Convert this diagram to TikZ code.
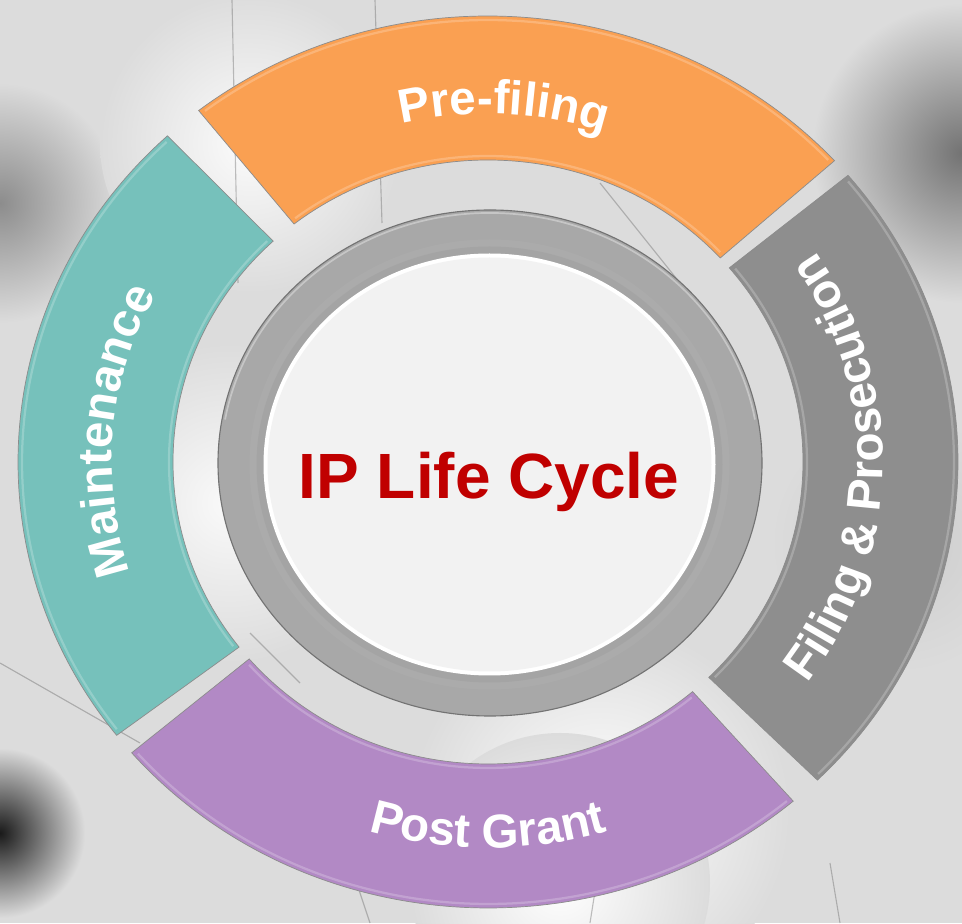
\documentclass[tikz,border=0pt]{standalone}
\usepackage{fontspec}
\setmainfont{Liberation Sans}
\setsansfont{Liberation Sans}
\usetikzlibrary{decorations.text,calc}
\definecolor{bgc}{RGB}{220,220,220}
\definecolor{orangeseg}{RGB}{250,160,82}
\definecolor{tealseg}{RGB}{118,193,187}
\definecolor{grayseg}{RGB}{142,142,142}
\definecolor{purpleseg}{RGB}{178,137,197}
\definecolor{ringgray}{RGB}{168,168,168}
\definecolor{discc}{RGB}{242,242,242}
\definecolor{titlered}{RGB}{192,0,0}
\newcommand\segfont{\fontsize{33.8pt}{36pt}\selectfont\bfseries}
\newcommand\ipseg[3]{%
  \path[seg, fill=#1] (#2:470 and 446) arc[start angle=#2, end angle=#3, x radius=470, y radius=446]
    -- (#3:315 and 302) arc[start angle=#3, end angle=#2, x radius=315, y radius=302] -- cycle;
  \draw[white, opacity=0.22, line width=1.6pt] (#2+0.6:466 and 442) arc[start angle=#2+0.6, end angle=#3-0.6, x radius=466, y radius=442];
  \draw[white, opacity=0.22, line width=1.6pt] (#2+0.8:319 and 306) arc[start angle=#2+0.8, end angle=#3-0.8, x radius=319, y radius=306];}
\tikzset{
  seg/.style={draw=black!45, line width=0.5pt},
  bgline/.style={draw=black!60, line width=0.8pt, opacity=0.4},
  segtext/.style={decorate, decoration={text along path, text align=center, text color=white}}
}
\begin{document}
\begin{tikzpicture}[x=0.025cm,y=0.025cm]
\useasboundingbox (0,0) rectangle (962,923);
% background
\fill[bgc] (0,0) rectangle (962,923);
\shade[inner color=black!45, outer color=bgc] (0,720) circle (120);
\shade[inner color=black!55, outer color=bgc] (962,770) circle (150);
\shade[inner color=black!20, outer color=bgc] (900,380) circle (130);
\shade[inner color=black!90, outer color=bgc] (0,90) circle (85);
\shade[inner color=white, outer color=bgc] (600,110) circle (190);
\shade[inner color=white, outer color=bgc] (560,40) circle (150);
\shade[inner color=white!90!bgc, outer color=bgc] (250,780) circle (150);
\shade[inner color=white!85!bgc, outer color=bgc] (230,420) circle (160);
\draw[bgline] (232,923) -- (238,640);
\draw[bgline] (375,923) -- (382,700);
\draw[bgline] (600,740) -- (680,640);
\draw[bgline] (0,260) -- (140,180);
\draw[bgline] (250,290) -- (300,240);
\draw[bgline] (830,60) -- (840,0);
\draw[bgline] (590,0) -- (605,95);
\draw[bgline] (370,0) -- (330,120);
\begin{scope}[shift={(488,461)}]
  % segments
  \ipseg{orangeseg}{42.5}{128}
  \ipseg{tealseg}{133}{217.8}
  \ipseg{purpleseg}{220.7}{310.5}
  \ipseg{grayseg}{-45.5}{40}
  % segment texts
  \path[segtext, decoration={text={|\segfont|Pre-filing}}]
    (130:367 and 348) arc[start angle=130, end angle=45, x radius=367, y radius=348];
  \path[segtext, decoration={text={|\segfont|Maintenance}}]
    (218:376 and 357) arc[start angle=218, end angle=132, x radius=376, y radius=357];
  \path[segtext, decoration={text={|\segfont|Post Grant}}]
    (225:407 and 386) arc[start angle=225, end angle=315, x radius=407, y radius=386];
  \path[segtext, decoration={text={|\segfont|Filing {\&} Prosecution}}]
    (-46:395 and 375) arc[start angle=-46, end angle=44, x radius=395, y radius=375];
  % central ring
  \path[fill=ringgray, draw=black!55, line width=0.8pt] (2,-1) ellipse [x radius=272, y radius=253];
  \draw[white, opacity=0.35, line width=1.2pt] (2,-1) ++(170:269 and 250)
    arc[start angle=170, end angle=10, x radius=269, y radius=250];
  \fill[black!30, opacity=0.35] (1.5,-2.5) ellipse [x radius=240, y radius=225];
  \fill[black!40, opacity=0.35] (1.5,-2.5) ellipse [x radius=233, y radius=218];
  \fill[white] (1.5,-2.5) ellipse [x radius=226, y radius=211];
  \fill[discc] (1.5,-2.5) ellipse [x radius=222, y radius=207];
  \node[anchor=base, text=titlered, font=\fontsize{45.5pt}{48pt}\selectfont\bfseries, inner sep=0pt]
    (title) at (1,-37) {IP Life Cycle};
\end{scope}
\end{tikzpicture}
\end{document}
